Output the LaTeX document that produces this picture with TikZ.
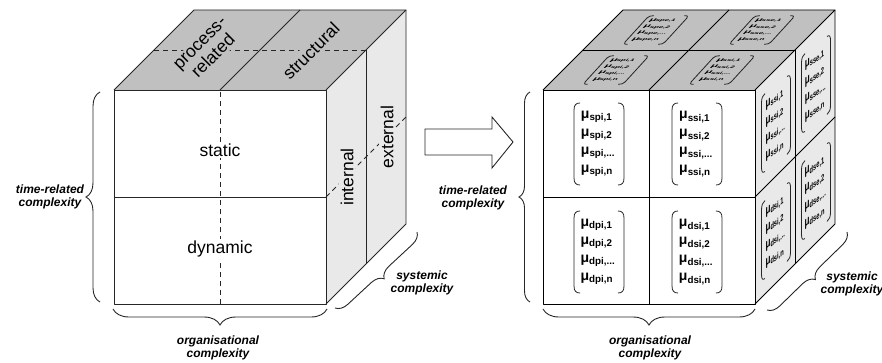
\documentclass[tikz,border=0pt]{standalone}
\usepackage{fontspec}
\setmainfont{Liberation Sans}
\usetikzlibrary{decorations.pathreplacing}

\definecolor{topgray}{RGB}{192,192,192}
\definecolor{sidegray}{RGB}{233,233,233}

\tikzset{
  edgeline/.style={line width=0.9pt, draw=black!85, line join=round},
  divider/.style={line width=0.9pt, draw=black!85},
  dashdiv/.style={divider, dash pattern=on 5pt off 4pt},
  facelabel/.style={font=\fontsize{17.5}{19}\selectfont, align=center, inner sep=2pt},
  bracelabel/.style={font=\bfseries\itshape\fontsize{12}{13.5}\selectfont, align=center, inner sep=0},
  curly/.style={decorate, decoration={brace, amplitude=#1}, line width=0.9pt, draw=black!85},
  vectext/.style={font=\bfseries\fontsize{14}{18}\selectfont, align=left, inner sep=0, transform shape},
  vecbracket/.style={line width=0.8pt, draw=black!85},
}

% a bracketed column of membership values, centred on the local origin
\newcommand\muvec[2]{%
  \node[vectext] (#2) at (-1,0) {μ\textsubscript{#1,1}\\μ\textsubscript{#1,2}\\μ\textsubscript{#1,...}\\μ\textsubscript{#1,n}};
  \draw[vecbracket] (-19,41) .. controls (-23,41) and (-25,39) .. (-25,34) -- (-25,-34) .. controls (-25,-39) and (-23,-41) .. (-19,-41);
  \draw[vecbracket] (19,41) .. controls (23,41) and (25,39) .. (25,34) -- (25,-34) .. controls (25,-39) and (23,-41) .. (19,-41);
}

\begin{document}
\begin{tikzpicture}[x=1pt, y=1pt]
\useasboundingbox (0,0) rectangle (882,362);

% ---------------- left cube: the three complexity dimensions ----------------
\coordinate (lA) at (114,58);  \coordinate (lB) at (326,58);
\coordinate (lC) at (326,272); \coordinate (lD) at (114,272);
\coordinate (lE) at (194,352); \coordinate (lF) at (406,352);
\coordinate (lG) at (406,138);

\fill[white] (lA) rectangle (lC);
\fill[topgray] (lD) -- (lE) -- (lF) -- (lC) -- cycle;
\fill[sidegray] (lB) -- (lG) -- (lF) -- (lC) -- cycle;

\draw[dashdiv] (220,58) -- (220,272);
\draw[divider] (114,165) -- (326,165);
\draw[divider] (220,272) -- (300,352);
\draw[dashdiv] (154,312) -- (366,312);
\draw[divider] (366,312) -- (366,98);
\draw[dashdiv] (326,165) -- (406,245);

\draw[edgeline] (lA) rectangle (lC);
\draw[edgeline] (lD) -- (lE) -- (lF) -- (lC);
\draw[edgeline] (lF) -- (lG) -- (lB);

\node[facelabel, fill=white] (static) at (220,212) {static};
\node[facelabel, fill=white] (dynamic) at (220,113) {dynamic};
\node[facelabel, fill=topgray, rotate=45] (proc) at (207,312) {process-\\related};
\node[facelabel, fill=topgray, rotate=45] (struct) at (311,311) {structural};
\node[facelabel, fill=sidegray, rotate=90] (internal) at (347,185) {internal};
\node[facelabel, fill=sidegray, rotate=90] (external) at (387,225) {external};

\draw[curly=14pt] (100,60) -- (100,270);
\draw[curly=16pt] (327,53) -- (113,53);
\draw[curly=12pt] (417,130) -- (335,54);

\node[bracelabel] (ltime) at (50,165) {time-related\\complexity};
\node[bracelabel] (lorg) at (218,14) {organisational\\complexity};
\node[bracelabel] (lsys) at (422,79) {systemic\\complexity};

% ---------------- transition arrow ----------------
\draw[line width=0.9pt, draw=black!85, fill=white, line join=miter]
  (425,233) -- (492,233) -- (492,245) -- (513,220) -- (492,194) -- (492,207) -- (425,207) -- cycle;

% ---------------- right cube: membership values per cell ----------------
\coordinate (rA) at (543,58);  \coordinate (rB) at (755,58);
\coordinate (rC) at (755,272); \coordinate (rD) at (543,272);
\coordinate (rE) at (623,352); \coordinate (rF) at (835,352);
\coordinate (rG) at (835,138);

\fill[white] (rA) rectangle (rC);
\fill[topgray] (rD) -- (rE) -- (rF) -- (rC) -- cycle;
\fill[sidegray] (rB) -- (rG) -- (rF) -- (rC) -- cycle;

% front face
\begin{scope}[shift={(599,218)}] \muvec{spi}{fspi} \end{scope}
\begin{scope}[shift={(697,218)}] \muvec{ssi}{fssi} \end{scope}
\begin{scope}[shift={(599,110)}] \muvec{dpi}{fdpi} \end{scope}
\begin{scope}[shift={(697,110)}] \muvec{dsi}{fdsi} \end{scope}

% top face
\begin{scope}[shift={(616,292)}, cm={0.8,0,0.32,0.35,(0,0)}] \muvec{spi}{tspi} \end{scope}
\begin{scope}[shift={(722,292)}, cm={0.8,0,0.32,0.35,(0,0)}] \muvec{ssi}{tssi} \end{scope}
\begin{scope}[shift={(656,332)}, cm={0.8,0,0.32,0.35,(0,0)}] \muvec{spe}{tspe} \end{scope}
\begin{scope}[shift={(762,332)}, cm={0.8,0,0.32,0.35,(0,0)}] \muvec{sse}{tsse} \end{scope}

% side face
\begin{scope}[shift={(776,238)}, cm={0.58,0.45,0,0.95,(0,0)}] \muvec{ssi}{sssi} \end{scope}
\begin{scope}[shift={(816,278)}, cm={0.58,0.45,0,0.95,(0,0)}] \muvec{sse}{ssse} \end{scope}
\begin{scope}[shift={(776,131)}, cm={0.58,0.45,0,0.95,(0,0)}] \muvec{dsi}{sdsi} \end{scope}
\begin{scope}[shift={(816,171)}, cm={0.58,0.45,0,0.95,(0,0)}] \muvec{dse}{sdse} \end{scope}

\draw[divider, draw=black] (649,58) -- (649,272);
\draw[divider, draw=black] (543,165) -- (755,165);
\draw[divider, draw=black] (649,272) -- (729,352);
\draw[divider, draw=black] (583,312) -- (795,312);
\draw[divider, draw=black] (795,312) -- (795,98);
\draw[divider, draw=black] (755,165) -- (835,245);

\draw[edgeline, draw=black] (rA) rectangle (rC);
\draw[edgeline, draw=black] (rD) -- (rE) -- (rF) -- (rC);
\draw[edgeline, draw=black] (rF) -- (rG) -- (rB);

\draw[curly=11pt] (530,60) -- (530,270);
\draw[curly=16pt] (755,53) -- (543,53);
\draw[curly=12pt] (847,130) -- (767,52);

\node[bracelabel] (rtime) at (473,164) {time-related\\complexity};
\node[bracelabel] (rorg) at (650,14) {organisational\\complexity};
\node[bracelabel] (rsys) at (852,78) {systemic\\complexity};
\end{tikzpicture}
\end{document}
